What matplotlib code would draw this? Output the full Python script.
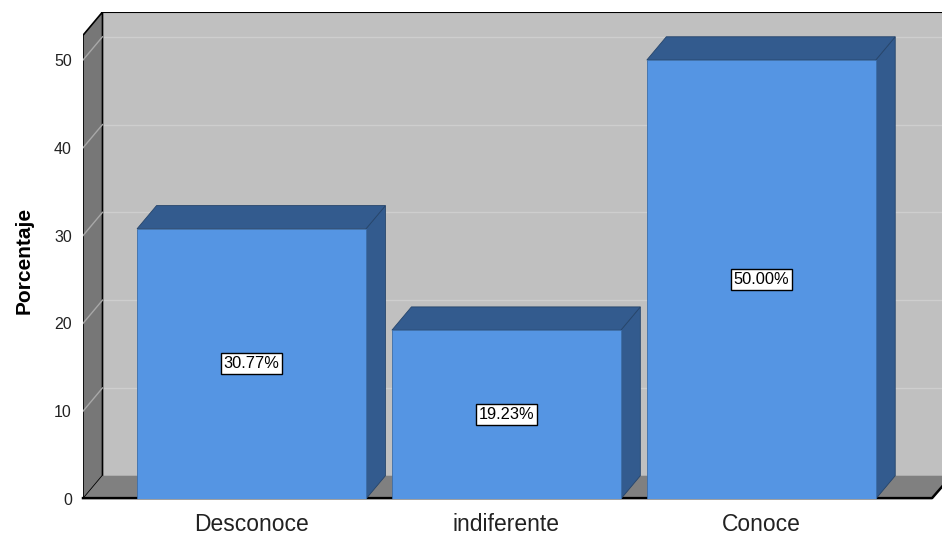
import matplotlib.pyplot as plt
from matplotlib.patches import Polygon, Rectangle
import numpy as np

plt.rcParams['font.family'] = ['Liberation Sans', 'DejaVu Sans']

categorias = ['Desconoce', 'indiferente', 'Conoce']
porcentajes = [30.77, 19.23, 50.00]
yticks = [0, 10, 20, 30, 40, 50]

# colours of the 3D pieces
col_wall = '#c0c0c0'
col_side = '#777777'
col_floor = '#808080'
col_grid = '#cecece'
col_front = '#5595e3'
col_dark = '#335b8e'

fig = plt.figure(figsize=(9.42, 5.35), dpi=100)
ax = fig.add_axes([83 / 942, 36 / 535, 859 / 942, 487 / 535])

x0, x1 = -0.661, 2.709
ytop = 55.47
ax.set_xlim(x0, x1)
ax.set_ylim(0, ytop)

# depth offset of the fake 3D (data units)
dx, dy = 0.0765, 2.65
bw = 0.898
floor_right = 2.67

# back wall
ax.add_patch(Rectangle((x0 + dx, dy), x1 - x0, ytop - dy, facecolor=col_wall,
                       edgecolor='none', zorder=1))
ax.plot([x0 + dx, x1], [ytop - 0.05, ytop - 0.05], color='black', lw=1.5, zorder=2)

# gridlines on back wall and side wall
for v in yticks[1:]:
    ax.plot([x0 + dx, x1], [v + dy, v + dy], color=col_grid, lw=1, zorder=2)

# left side wall
side = Polygon([(x0, 0), (x0 + dx, dy), (x0 + dx, ytop), (x0, ytop - dy)],
               closed=True, facecolor=col_side, edgecolor='black', lw=1.2, zorder=3)
ax.add_patch(side)
for v in yticks[1:]:
    ax.plot([x0, x0 + dx], [v, v + dy], color='#a8a8a8', lw=1, zorder=4)

# floor
floor = Polygon([(x0, 0), (floor_right, 0), (floor_right + dx, dy), (x0 + dx, dy)],
                closed=True, facecolor=col_floor, edgecolor='none', zorder=3)
ax.add_patch(floor)
ax.plot([x0, floor_right, floor_right + dx], [0.1, 0.1, dy], color='black', lw=1.8,
        zorder=4, clip_on=False)

# bars
xs = np.arange(len(categorias))
for x, v in zip(xs, porcentajes):
    l, r = x - bw / 2, x + bw / 2
    side_face = Polygon([(r, 0), (r + dx, dy), (r + dx, v + dy), (r, v)],
                        closed=True, facecolor=col_dark, edgecolor='#26456b', lw=0.6, zorder=5)
    top_face = Polygon([(l, v), (l + dx, v + dy), (r + dx, v + dy), (r, v)],
                       closed=True, facecolor=col_dark, edgecolor='#26456b', lw=0.6, zorder=5)
    front = Rectangle((l, 0), bw, v, facecolor=col_front, edgecolor='#3d6ea8',
                      lw=0.6, zorder=6)
    ax.add_patch(side_face)
    ax.add_patch(top_face)
    ax.add_patch(front)
    ax.text(x, v / 2, f'{v:.2f}%', ha='center', va='center', fontsize=11.8, zorder=7,
            bbox=dict(boxstyle='square,pad=0.18', facecolor='white', edgecolor='black', lw=1))

for s in ax.spines.values():
    s.set_visible(False)

ax.set_xticks(xs)
ax.set_xticklabels(categorias, fontsize=16.5, color='#222222')
ax.set_yticks(yticks)
ax.set_yticklabels([str(t) for t in yticks], fontsize=11.5, color='#222222')
ax.tick_params(axis='both', length=0)
ax.tick_params(axis='y', pad=8)
ax.tick_params(axis='x', pad=10)

ax.set_ylabel('Porcentaje', fontsize=15, fontweight='bold')
ax.yaxis.set_label_coords(-0.058, 0.49)

fig.savefig('out.png', dpi=100, facecolor='white')
